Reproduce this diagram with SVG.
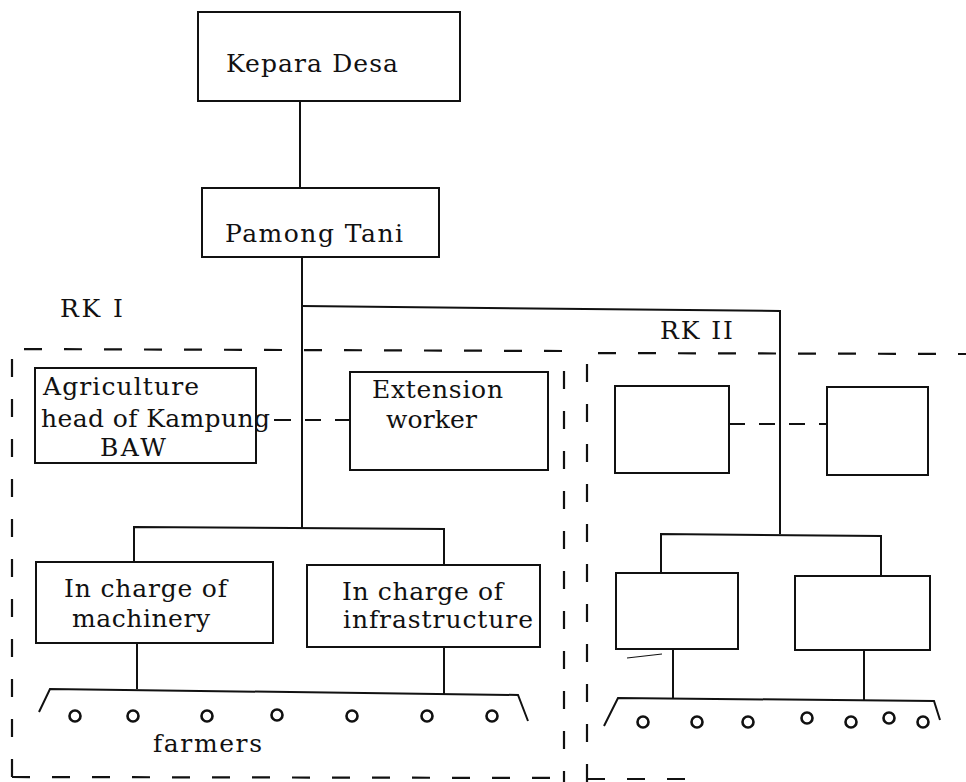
<svg xmlns="http://www.w3.org/2000/svg" width="966" height="782" viewBox="0 0 966 782">
<style>
  .box { fill: #fff; stroke: #111; stroke-width: 2; }
  .ln { fill: none; stroke: #111; stroke-width: 2; }
  .dash { fill: none; stroke: #111; stroke-width: 2.2; stroke-dasharray: 18 22; }
  .dash2 { fill: none; stroke: #111; stroke-width: 1.8; stroke-dasharray: 16 14; }
  .dot { fill: #fff; stroke: #111; stroke-width: 2.6; }
  .t { font-family: "DejaVu Serif", "Liberation Serif", serif; font-size: 25px; fill: #111; }
</style>
<rect width="966" height="782" fill="#fff"/>

<g id="regions">
  <polyline class="dash" points="12,777 12,349 564,351 564,782"/>
  <line class="dash" x1="12" y1="777" x2="564" y2="778"/>
  <polyline class="dash" points="587,782 587,353 966,354"/>
  <line class="dash" x1="587" y1="779" x2="695" y2="779"/>
  <text class="t" x="60" y="317" textLength="63" lengthAdjust="spacing">RK I</text>
  <text class="t" x="660" y="339" textLength="73" lengthAdjust="spacing">RK II</text>
</g>

<g id="connectors">
  <line class="ln" x1="300" y1="101" x2="300" y2="188"/>
  <line class="ln" x1="302" y1="257" x2="302" y2="528"/>
  <polyline class="ln" points="302,306 780,311 780,534"/>
  <polyline class="ln" points="134,562 134,527 444,529 444,565"/>
  <polyline class="ln" points="661,573 661,534 881,536 881,576"/>
  <line class="ln" x1="137" y1="643" x2="137" y2="689"/>
  <line class="ln" x1="444" y1="647" x2="444" y2="694"/>
  <line class="ln" x1="673" y1="649" x2="673" y2="698"/>
  <line class="ln" x1="864" y1="650" x2="864" y2="700"/>
  <line class="dash2" x1="275" y1="420" x2="350" y2="420"/>
  <line class="dash2" x1="729" y1="424" x2="827" y2="424"/>
  <line x1="627" y1="658" x2="662" y2="654" stroke="#111" stroke-width="1.2"/>
</g>

<g id="kepara-desa">
  <rect class="box" x="198" y="12" width="262" height="89"/>
  <text class="t" x="226" y="72" textLength="172" lengthAdjust="spacing">Kepara Desa</text>
</g>

<g id="pamong-tani">
  <rect class="box" x="202" y="188" width="237" height="69"/>
  <text class="t" x="225" y="242" textLength="178" lengthAdjust="spacing">Pamong Tani</text>
</g>

<g id="agriculture-head">
  <rect class="box" x="35" y="368" width="221" height="95"/>
  <text class="t" x="43" y="395" textLength="156" lengthAdjust="spacing">Agriculture</text>
  <text class="t" x="41" y="427" textLength="229" lengthAdjust="spacing">head of Kampung</text>
  <line class="ln" x1="274" y1="420" x2="288" y2="420"/>
  <text class="t" x="100" y="456" textLength="66" lengthAdjust="spacing">BAW</text>
</g>

<g id="extension-worker">
  <rect class="box" x="350" y="372" width="198" height="98"/>
  <text class="t" x="372" y="398" textLength="131" lengthAdjust="spacing">Extension</text>
  <text class="t" x="386" y="428" textLength="91" lengthAdjust="spacing">worker</text>
</g>

<g id="machinery">
  <rect class="box" x="36" y="562" width="237" height="81"/>
  <text class="t" x="64" y="597" textLength="163" lengthAdjust="spacing">In charge of</text>
  <text class="t" x="72" y="627" textLength="138" lengthAdjust="spacing">machinery</text>
</g>

<g id="infrastructure">
  <rect class="box" x="307" y="565" width="233" height="82"/>
  <text class="t" x="342" y="600" textLength="161" lengthAdjust="spacing">In charge of</text>
  <text class="t" x="343" y="628" textLength="190" lengthAdjust="spacing">infrastructure</text>
</g>

<g id="farmers-rk1">
  <polyline class="ln" points="39,712 50,689 518,695 528,721"/>
  <circle class="dot" cx="75" cy="716" r="5.5"/>
  <circle class="dot" cx="133" cy="716" r="5.5"/>
  <circle class="dot" cx="207" cy="716" r="5.5"/>
  <circle class="dot" cx="277" cy="715" r="5.5"/>
  <circle class="dot" cx="352" cy="716" r="5.5"/>
  <circle class="dot" cx="427" cy="716" r="5.5"/>
  <circle class="dot" cx="492" cy="716" r="5.5"/>
  <text class="t" x="153" y="752" textLength="109" lengthAdjust="spacing">farmers</text>
</g>

<g id="rk2-top-left"><rect class="box" x="615" y="386" width="114" height="87"/></g>
<g id="rk2-top-right"><rect class="box" x="827" y="387" width="101" height="88"/></g>
<g id="rk2-bottom-left"><rect class="box" x="616" y="573" width="122" height="76"/></g>
<g id="rk2-bottom-right"><rect class="box" x="795" y="576" width="135" height="74"/></g>

<g id="farmers-rk2">
  <polyline class="ln" points="604,726 618,698 934,701 940,720"/>
  <circle class="dot" cx="643" cy="722" r="5.5"/>
  <circle class="dot" cx="697" cy="722" r="5.5"/>
  <circle class="dot" cx="748" cy="722" r="5.5"/>
  <circle class="dot" cx="807" cy="718" r="5.5"/>
  <circle class="dot" cx="851" cy="722" r="5.5"/>
  <circle class="dot" cx="889" cy="718" r="5.5"/>
  <circle class="dot" cx="923" cy="722" r="5.5"/>
</g>
</svg>
